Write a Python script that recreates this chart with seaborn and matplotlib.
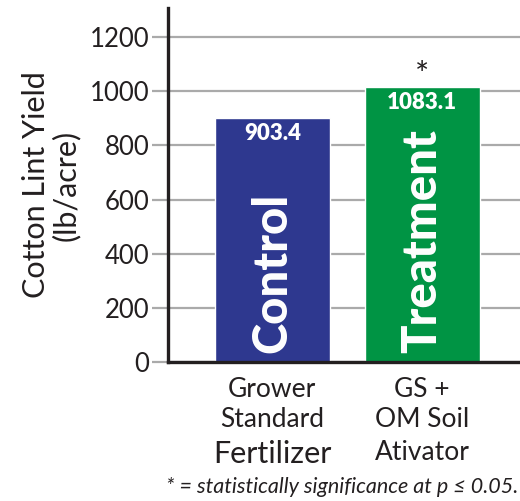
import matplotlib
matplotlib.use("Agg")
import matplotlib.pyplot as plt
import seaborn as sns
import pandas as pd

sns.set_theme(style="white")
plt.rcParams['font.family'] = ['Lato', 'DejaVu Sans']

# data
groups = ["Control", "Treatment"]
bar_heights = [900, 1015]
value_labels = ["903.4", "1083.1"]
tick_top = ["Grower\nStandard", "GS +\nOM Soil"]
tick_bottom = ["Fertilizer", "Ativator"]
y_ticks = [0, 200, 400, 600, 800, 1000, 1200]
colors = ["#2e388f", "#009444"]
significant = [False, True]

df = pd.DataFrame({"group": groups, "yield": bar_heights})

ink = "#231f20"
grid_c = "#aaaaaa"

fig = plt.figure(figsize=(5.2, 5.01), dpi=100)
ax = fig.add_axes([0.323, 0.2774, 0.677, 0.7066])

sns.barplot(data=df, x="group", y="yield", hue="group", palette=colors,
            width=0.767, legend=False, ax=ax, saturation=1, zorder=3)

ax.set_xlim(-0.697, 1.653)
ax.set_ylim(0, 1307)
ax.set_yticks(y_ticks)
ax.set_yticklabels([str(t) for t in y_ticks], fontsize=18.5, color=ink)
ax.yaxis.grid(True, color=grid_c, lw=1.6, zorder=0)
ax.tick_params(axis="y", length=11.5, width=1.6, color=grid_c, pad=2, left=True)
ax.tick_params(axis="x", length=0)
ax.set_xticks([0, 1])
ax.set_xticklabels(["", ""])

for side in ["top", "right"]:
    ax.spines[side].set_visible(False)
for side in ["left", "bottom"]:
    ax.spines[side].set_color(ink)
    ax.spines[side].set_linewidth(2.4)
    ax.spines[side].set_zorder(5)

ax.set_xlabel("")
ax.set_ylabel("Cotton Lint Yield\n(lb/acre)", fontsize=22, color=ink,
              linespacing=1.05, labelpad=7)

for i, (h, lab, name, sig) in enumerate(zip(bar_heights, value_labels, groups, significant)):
    ax.text(i, h - 18, lab, ha="center", va="top", color="white",
            fontsize=16, fontweight="heavy", zorder=6)
    ax.text(i, 32, name, ha="center", va="bottom", rotation=90, color="white",
            fontsize=34, fontweight="black", zorder=6)
    if sig:
        ax.text(i, h + 96, "*", ha="center", va="top", color=ink, fontsize=24, zorder=6)

for i, (top, bot) in enumerate(zip(tick_top, tick_bottom)):
    ax.annotate(top, xy=(i, 0), xycoords=("data", "axes fraction"),
                xytext=(0, -11), textcoords="offset points", ha="center", va="top",
                fontsize=19, color=ink, linespacing=1.22)
    ax.annotate(bot, xy=(i, 0), xycoords=("data", "axes fraction"),
                xytext=(0, -56), textcoords="offset points", ha="center", va="top",
                fontsize=22 if i == 0 else 19, color=ink)

fig.text(0.996, 0.028, "* = statistically significance at p \u2264 0.05.", ha="right",
         va="center", fontsize=15.5, style="italic", color=ink)

fig.savefig("out.png", dpi=100)
